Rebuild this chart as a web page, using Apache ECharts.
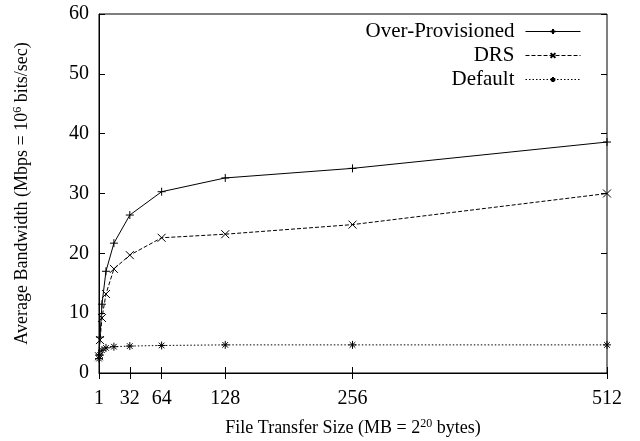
<!DOCTYPE html>
<html>
<head>
<meta charset="utf-8">
<script src="https://cdn.jsdelivr.net/npm/echarts@6/dist/echarts.min.js"></script>
<style>
  html, body { margin: 0; padding: 0; background: #fff; }
  #chart { width: 640px; height: 441px; }
</style>
</head>
<body>
<div id="chart"></div>
<script>
// file sizes (MB)
const sizes = [1, 2, 4, 8, 16, 32, 64, 128, 256, 512]
const overProvisioned = [3.0, 6.0, 11.5, 17.0, 21.7, 26.4, 30.3, 32.6, 34.2, 38.6]
const drs = [2.8, 5.5, 9.2, 13.2, 17.4, 19.7, 22.6, 23.2, 24.8, 30.0]
const defaultBw = [2.4, 3.0, 3.8, 4.2, 4.4, 4.5, 4.6, 4.7, 4.7, 4.7]
const xTicks = [1, 32, 64, 128, 256, 512]

const FONT = 'Liberation Serif'

const pairs = (ys) => sizes.map((x, i) => [x, ys[i]])

// gnuplot style point marks
const plusMark = 'path://M5,0L5,10M0,5L10,5'
const crossMark = 'path://M0,0L10,10M10,0L0,10'
const starMark = 'path://M5,0L5,10M0,5L10,5M1.5,1.5L8.5,8.5M8.5,1.5L1.5,8.5'

const makeSeries = (name, ys, symbol, dash) => ({
  name: name,
  type: 'line',
  data: pairs(ys),
  symbol: symbol,
  symbolSize: 8,
  showAllSymbol: true,
  lineStyle: { color: '#000', width: 1, type: dash },
  itemStyle: { color: '#000', borderColor: '#000', borderWidth: 1 },
  emphasis: { disabled: true },
  animation: false
})

const chart = echarts.init(document.getElementById('chart'))

const tickStyle = { show: true, inside: true, length: 6, lineStyle: { color: '#000' } }

chart.setOption({
  backgroundColor: '#fff',
  textStyle: { fontFamily: FONT },
  grid: {
    left: 99, right: 33, top: 14, bottom: 68,
    outerBoundsMode: 'none',
    show: true, borderColor: '#000', borderWidth: 1
  },
  legend: {
    orient: 'vertical',
    right: 54,
    top: 16,
    align: 'right',
    itemWidth: 55,
    itemHeight: 6,
    itemGap: 3,
    lineStyle: { width: 1 },
    textStyle: { fontFamily: FONT, fontSize: 21, color: '#000', padding: [0, 6, 0, 0] },
    data: ['Over-Provisioned', 'DRS', 'Default']
  },
  xAxis: [
    {
      type: 'value',
      min: 1,
      max: 512,
      name: 'File Transfer Size (MB = 2{sup|20} bytes)',
      nameLocation: 'middle',
      nameGap: 45,
      nameTextStyle: {
        fontFamily: FONT, fontSize: 18, color: '#000',
        rich: { sup: { fontFamily: FONT, fontSize: 12, color: '#000', padding: [0, 0, 9, 0] } }
      },
      axisLine: { show: true, lineStyle: { color: '#000' } },
      axisTick: Object.assign({ customValues: xTicks }, tickStyle),
      axisLabel: { customValues: xTicks, fontFamily: FONT, fontSize: 20, color: '#000', margin: 16 },
      splitLine: { show: false }
    },
    {
      type: 'value',
      min: 1,
      max: 512,
      position: 'top',
      axisLine: { show: false },
      axisTick: Object.assign({ customValues: xTicks }, tickStyle),
      axisLabel: { show: false },
      splitLine: { show: false }
    }
  ],
  yAxis: [
    {
      type: 'value',
      min: 0,
      max: 60,
      interval: 10,
      name: 'Average Bandwidth (Mbps = 10{sup|6} bits/sec)',
      nameLocation: 'middle',
      nameGap: 66,
      nameTextStyle: {
        fontFamily: FONT, fontSize: 18, color: '#000',
        rich: { sup: { fontFamily: FONT, fontSize: 12, color: '#000', padding: [0, 0, 9, 0] } }
      },
      axisLine: { show: true, lineStyle: { color: '#000' } },
      axisTick: tickStyle,
      axisLabel: { fontFamily: FONT, fontSize: 20, color: '#000', margin: 10 },
      splitLine: { show: false }
    },
    {
      type: 'value',
      min: 0,
      max: 60,
      interval: 10,
      position: 'right',
      axisLine: { show: false },
      axisTick: tickStyle,
      axisLabel: { show: false },
      splitLine: { show: false }
    }
  ],
  series: [
    makeSeries('Over-Provisioned', overProvisioned, plusMark, 'solid'),
    makeSeries('DRS', drs, crossMark, [4, 2]),
    makeSeries('Default', defaultBw, starMark, [1.5, 2])
  ]
})
</script>
</body>
</html>
